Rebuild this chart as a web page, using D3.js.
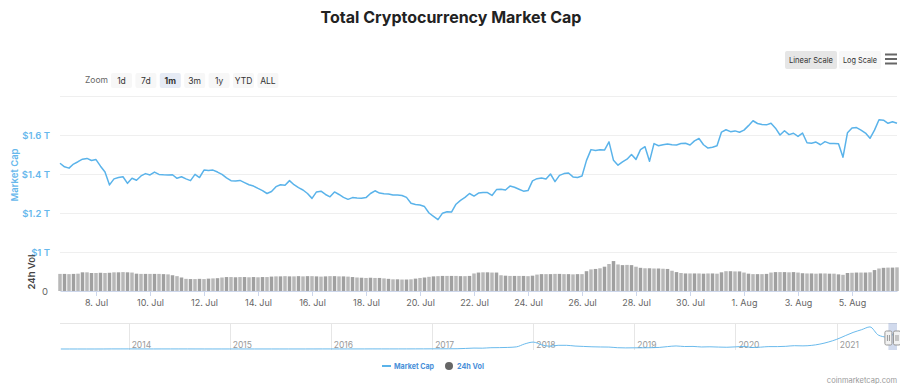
<!DOCTYPE html>
<html><head><meta charset="utf-8">
<script src="https://cdn.jsdelivr.net/npm/d3@7"></script>
<style>html,body{margin:0;padding:0;background:#fff;}svg{display:block;font-family:Inter,"Noto Sans",sans-serif;}</style>
</head><body>
<svg id="c" width="900" height="384"></svg>
<script>
// ---- data ----
const startTime = "2021-07-06T16:00:00Z"; // first sample, 4-hour steps
const stepHours = 4;
const marketCap = [ // trillions USD
1.455,1.437,1.43,1.451,1.463,1.476,1.48,1.469,1.474,1.44,
1.41,1.344,1.375,1.382,1.386,1.352,1.378,1.368,1.39,1.402,
1.395,1.41,1.398,1.396,1.395,1.396,1.378,1.386,1.375,1.366,
1.398,1.382,1.42,1.418,1.42,1.41,1.398,1.38,1.366,1.364,
1.367,1.356,1.345,1.338,1.326,1.315,1.3,1.31,1.335,1.345,
1.342,1.366,1.345,1.33,1.318,1.3,1.275,1.308,1.312,1.295,
1.283,1.308,1.295,1.28,1.27,1.279,1.277,1.276,1.279,1.3,
1.314,1.302,1.299,1.297,1.292,1.292,1.29,1.28,1.25,1.244,
1.241,1.233,1.2,1.183,1.166,1.199,1.206,1.205,1.245,1.265,
1.28,1.3,1.287,1.302,1.305,1.305,1.29,1.32,1.322,1.318,
1.338,1.332,1.322,1.312,1.315,1.365,1.376,1.379,1.374,1.4,
1.361,1.393,1.402,1.405,1.385,1.382,1.39,1.47,1.525,1.52,
1.524,1.523,1.565,1.47,1.445,1.462,1.476,1.5,1.475,1.525,
1.54,1.465,1.556,1.545,1.55,1.554,1.55,1.549,1.556,1.558,
1.549,1.57,1.582,1.55,1.533,1.537,1.545,1.615,1.627,1.617,
1.621,1.614,1.625,1.648,1.673,1.659,1.654,1.652,1.66,1.635,
1.6,1.622,1.602,1.609,1.593,1.61,1.56,1.558,1.564,1.55,
1.566,1.557,1.556,1.555,1.486,1.612,1.636,1.638,1.625,1.61,
1.583,1.625,1.678,1.676,1.66,1.668,1.66];
const volume24h = [ // billions USD
76,76,75,76,77,83,83,80,80,81,
80,81,83,83,84,83,82,77,76,76,
76,76,76,75,74,70,66,60,54,53,
53,54,53,55,56,57,60,62,62,61,
62,62,61,62,61,62,62,64,65,65,
66,65,65,66,65,66,66,65,64,65,
66,66,65,65,64,62,60,59,58,59,
58,58,56,54,52,52,51,51,52,55,
58,60,63,65,66,67,67,67,67,66,
66,67,78,82,83,83,82,82,70,68,
67,67,67,67,66,68,73,75,75,75,
76,76,75,75,74,75,75,88,96,98,
101,108,120,133,118,115,116,115,108,103,
101,101,100,100,99,98,90,84,80,78,
78,78,78,77,78,78,77,83,88,88,
87,87,82,77,75,75,75,76,82,84,
84,84,83,84,82,79,78,78,77,78,
78,77,77,74,72,80,81,82,82,82,
83,93,100,103,104,104,105];
const xTickDates = ["2021-07-08","2021-07-10","2021-07-12","2021-07-14","2021-07-16","2021-07-18","2021-07-20","2021-07-22","2021-07-24","2021-07-26","2021-07-28","2021-07-30","2021-08-01","2021-08-03","2021-08-05"];
const yTicks = [1.0, 1.2, 1.4, 1.6, 1.8];
const yTickLabels = ["$1 T", "$1.2 T", "$1.4 T", "$1.6 T", ""];
const zoomButtons = ["1d","7d","1m","3m","1y","YTD","ALL"];
const selectedZoom = "1m";
const navStart = "2013-05-01"; // monthly history
const navHistory = [ // trillions USD, monthly
.0016,.0012,.001,.0012,.0016,.002,.01,.01,
.011,.008,.007,.006,.007,.008,.008,.007,.006,.005,.005,.005,
.004,.0035,.004,.0035,.0035,.0035,.0045,.004,.0035,.004,.006,.007,
.007,.0065,.0075,.0075,.0085,.011,.01,.0095,.01,.011,.012,.015,
.018,.02,.025,.03,.06,.1,.09,.14,.15,.17,.23,.55,
.75,.45,.3,.4,.4,.32,.28,.24,.22,.21,.14,.12,
.13,.13,.14,.17,.26,.33,.27,.28,.22,.24,.21,.19,
.23,.28,.16,.2,.26,.26,.29,.36,.34,.39,.53,.75,
1.05,1.45,1.8,2.1,2.4,1.5,1.3,1.65];
const navYears = ["2014","2015","2016","2017","2018","2019","2020","2021"];

// ---- build ----
const svg = d3.select("#c");
const blue = "#5ab3ea", labelBlue = "#67b8ec", grid = "#efefef";
const t0 = new Date(startTime);
const mc = marketCap.map((v,i)=>({t:new Date(+t0 + i*stepHours*3600e3), v}));
const vol = volume24h.map((v,i)=>({t:new Date(+t0 + i*stepHours*3600e3), v}));
const tEnd = mc[mc.length-1].t;

const L = 60, R = 897;
const x = d3.scaleTime().domain([t0, tEnd]).range([L, R]);
const y = d3.scaleLinear().domain([1.0, 1.8]).range([252, 96]);
const yv = d3.scaleLinear().domain([0, 160]).range([291, 255]);

// title
svg.append("text").attr("x",451).attr("y",23).attr("text-anchor","middle")
  .attr("font-size",16).attr("font-weight",700).attr("fill","#222").text("Total Cryptocurrency Market Cap");

// zoom buttons
svg.append("text").attr("x",85).attr("y",82.5).attr("font-size",8.5).attr("fill","#666").text("Zoom");
const zb = svg.append("g").selectAll("g").data(zoomButtons).join("g")
  .attr("transform",(d,i)=>`translate(${111 + i*24.4},73)`);
zb.append("rect").attr("width",21).attr("height",15).attr("rx",2)
  .attr("fill",d=>d===selectedZoom?"#e6ebf5":"#f7f7f7");
zb.append("text").attr("x",10.5).attr("y",10.5).attr("text-anchor","middle").attr("font-size",8.5)
  .attr("font-weight",d=>d===selectedZoom?700:400).attr("fill","#333").text(d=>d);

// scale buttons
const sb = [{t:"Linear Scale",x:785,w:52,f:"#e6e6e6"},{t:"Log Scale",x:839,w:42,f:"#f7f7f7"}];
const sg = svg.append("g").selectAll("g").data(sb).join("g").attr("transform",d=>`translate(${d.x},51)`);
sg.append("rect").attr("width",d=>d.w).attr("height",18).attr("rx",2).attr("fill",d=>d.f);
sg.append("text").attr("x",d=>d.w/2).attr("y",12).attr("text-anchor","middle").attr("font-size",7.8)
  .attr("textLength",d=>d.w-8).attr("lengthAdjust","spacingAndGlyphs").attr("fill","#333").text(d=>d.t);
svg.append("g").selectAll("line").data([0,1,2]).join("line")
  .attr("x1",885).attr("x2",897).attr("y1",d=>54.5+d*4.5).attr("y2",d=>54.5+d*4.5)
  .attr("stroke","#666").attr("stroke-width",2);

// gridlines
svg.append("g").selectAll("line").data(yTicks).join("line")
  .attr("x1",L).attr("x2",R).attr("y1",d=>Math.round(y(d))+0.5).attr("y2",d=>Math.round(y(d))+0.5)
  .attr("stroke",grid);
svg.append("g").selectAll("text").data(yTicks.map((d,i)=>({d,l:yTickLabels[i]})).filter(o=>o.l)).join("text")
  .attr("x",50).attr("y",o=>y(o.d)+3.5).attr("text-anchor","end").attr("font-size",9.5).attr("font-weight",600)
  .attr("fill",labelBlue).text(o=>o.l);
svg.append("text").attr("transform","translate(18,175) rotate(-90)").attr("text-anchor","middle")
  .attr("font-size",9.5).attr("font-weight",600).attr("fill",labelBlue).text("Market Cap");
svg.append("text").attr("transform","translate(35,272) rotate(-90)").attr("text-anchor","middle")
  .attr("font-size",9.5).attr("font-weight",600).attr("fill","#444").text("24h Vol");
svg.append("text").attr("x",48).attr("y",294.5).attr("text-anchor","end").attr("font-size",9.5).attr("fill","#666").text("0");

// volume bars
const bw = (x(vol[1].t)-x(vol[0].t));
svg.append("g").selectAll("rect").data(vol).join("rect")
  .attr("x",d=>x(d.t)-bw/2+0.5).attr("width",bw-1).attr("y",d=>yv(d.v)).attr("height",d=>291-yv(d.v))
  .attr("fill",(d,i)=>i%2?"#a0a0a0":"#b8b8b8");

// market cap line
svg.append("path").datum(mc).attr("fill","none").attr("stroke",blue).attr("stroke-width",1.5)
  .attr("stroke-linejoin","round")
  .attr("d",d3.line().x(d=>x(d.t)).y(d=>y(d.v)));

// x axis
const xt = xTickDates.map(s=>new Date(s+"T00:00:00Z"));
const xa = svg.append("g").attr("transform","translate(0,291)")
  .call(d3.axisBottom(x).tickValues(xt).tickFormat(d3.utcFormat("%-d. %b")).tickSize(5).tickPadding(4).tickSizeOuter(0));
xa.select(".domain").attr("stroke","#ccd6eb");
xa.selectAll(".tick line").attr("stroke","#ccd6eb");
xa.selectAll(".tick text").attr("font-size",9).attr("fill","#666").attr("font-family","Inter,sans-serif");

// navigator
const nx = d3.scaleTime().domain([new Date("2013-04-28T00:00:00Z"), tEnd]).range([L, R]);
const ny = d3.scaleLinear().domain([0, 2.5]).range([349, 326]);
const nStart = new Date(navStart+"T00:00:00Z");
const nav = navHistory.map((v,i)=>({t:d3.utcMonth.offset(nStart,i), v}));
nav.push({t:tEnd, v:marketCap[marketCap.length-1]});
svg.append("line").attr("x1",L).attr("x2",R).attr("y1",323.5).attr("y2",323.5).attr("stroke","#e6e6e6");
const yrs = navYears.map(s=>new Date(s+"-01-01T00:00:00Z"));
svg.append("g").selectAll("line").data(yrs).join("line")
  .attr("x1",d=>Math.round(nx(d))+0.5).attr("x2",d=>Math.round(nx(d))+0.5).attr("y1",323).attr("y2",350).attr("stroke","#e6e6e6");
svg.append("g").selectAll("text").data(yrs).join("text")
  .attr("x",d=>nx(d)+3).attr("y",348).attr("font-size",8.5).attr("fill","#999").text(d=>d.getUTCFullYear());
svg.append("path").datum(nav).attr("fill","none").attr("stroke",blue).attr("stroke-width",1).attr("opacity",0.9)
  .attr("d",d3.line().x(d=>nx(d.t)).y(d=>ny(d.v)).curve(d3.curveMonotoneX));
svg.append("rect").attr("x",nx(t0)).attr("y",323).attr("width",R-nx(t0)).attr("height",27)
  .attr("fill","rgba(102,133,194,0.3)");
[nx(t0), R].forEach(hx=>{
  svg.append("rect").attr("x",hx-3.5).attr("y",331).attr("width",7).attr("height",14).attr("rx",1.5)
    .attr("fill","#f2f2f2").attr("stroke","#999");
  svg.append("line").attr("x1",hx-1).attr("x2",hx-1).attr("y1",335).attr("y2",341).attr("stroke","#999");
  svg.append("line").attr("x1",hx+1).attr("x2",hx+1).attr("y1",335).attr("y2",341).attr("stroke","#999");
});

// legend
svg.append("line").attr("x1",382).attr("x2",391).attr("y1",366).attr("y2",366).attr("stroke",blue).attr("stroke-width",2);
svg.append("text").attr("x",394).attr("y",369).attr("font-size",8).attr("font-weight",700).attr("fill","#4a90d9")
  .attr("textLength",40).attr("lengthAdjust","spacingAndGlyphs").text("Market Cap");
svg.append("circle").attr("cx",449).attr("cy",366).attr("r",4).attr("fill","#666");
svg.append("text").attr("x",457).attr("y",369).attr("font-size",8).attr("font-weight",700).attr("fill","#4a90d9")
  .attr("textLength",27).attr("lengthAdjust","spacingAndGlyphs").text("24h Vol");

// credit
svg.append("text").attr("x",897).attr("y",383).attr("text-anchor","end").attr("font-size",7.5).attr("fill","#999").text("coinmarketcap.com");
</script>
</body></html>
